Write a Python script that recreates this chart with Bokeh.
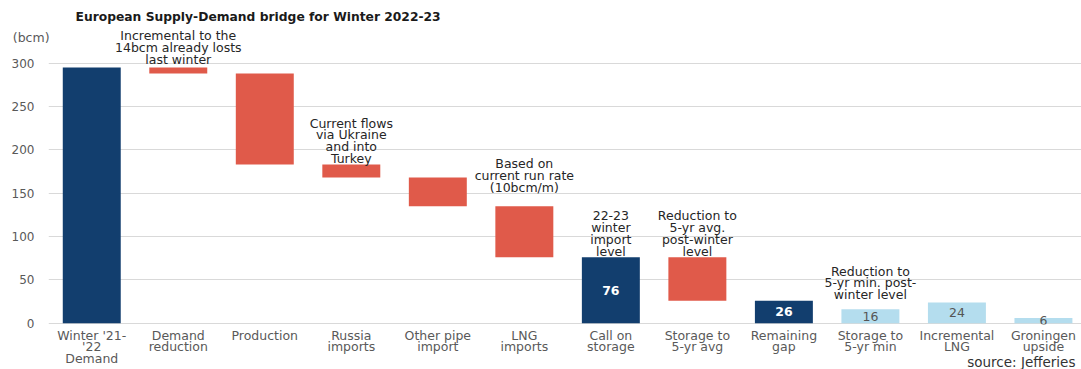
from bokeh.plotting import figure
from bokeh.models import ColumnDataSource, FixedTicker, Range1d, Label
from bokeh.core.properties import value
from bokeh.embed import file_html
from bokeh.resources import INLINE

# ---------------- data ----------------
categories = ["Winter '21-\n'22\nDemand", "Demand\nreduction", "Production",
              "Russia\nimports", "Other pipe\nimport", "LNG\nimports",
              "Call on\nstorage", "Storage to\n5-yr avg", "Remaining\ngap",
              "Storage to\n5-yr min", "Incremental\nLNG", "Groningen\nupside"]
values = [295, 7, 105, 15, 33, 59, 76, 50, 26, 16, 24, 6]
kinds = ["total", "down", "down", "down", "down", "down",
         "total", "down", "total", "extra", "extra", "extra"]
bar_labels = ["", "", "", "", "", "", "76", "", "26", "16", "24", "6"]
y_ticks = [0, 50, 100, 150, 200, 250, 300]

note_index = [1, 3, 5, 6, 7, 9]
note_y = [318, 210.5, 170.5, 103.5, 103.5, 46.5]
note_text = ["Incremental to the\n14bcm already losts\nlast winter",
             "Current flows\nvia Ukraine\nand into\nTurkey",
             "Based on\ncurrent run rate\n(10bcm/m)",
             "22-23\nwinter\nimport\nlevel",
             "Reduction to\n5-yr avg.\npost-winter\nlevel",
             "Reduction to\n5-yr min. post-\nwinter level"]

title_text = "European Supply-Demand bridge for Winter 2022-23"
unit_text = "(bcm)"
source_text = "source: Jefferies"

# ---------------- styles ----------------
NAVY = "#123e6e"
RED = "#e05a4a"
LIGHT = "#b4ddee"
FONT = "DejaVu Sans"
colour_of = {"total": NAVY, "down": RED, "extra": LIGHT}

# waterfall computation
x = list(range(len(values)))
bottoms, tops, colours, label_y, label_col, label_style = [], [], [], [], [], []
level = 0
for v, k in zip(values, kinds):
    if k == "total":
        b, t = 0, v
        level = v
    elif k == "down":
        t = level
        b = level - v
        level = b
    else:
        b, t = 0, v
    bottoms.append(b)
    tops.append(t)
    colours.append(colour_of[k])
    label_y.append((b + t) / 2)
    label_col.append("#ffffff" if k == "total" else "#555555")
    label_style.append("bold" if k == "total" else "normal")

src = ColumnDataSource(dict(x=x, bottom=bottoms, top=tops, color=colours,
                            ly=label_y, lt=bar_labels, lc=label_col, ls=label_style))

FRAME_H = 324
p = figure(frame_width=1033, frame_height=FRAME_H, output_backend="svg",
           toolbar_location=None, min_border_left=48, min_border_right=0,
           min_border_top=0, min_border_bottom=45,
           x_range=Range1d(-0.5, 11.44), y_range=Range1d(-1.5, 372.3))
p.outline_line_color = None
p.background_fill_color = "white"
p.border_fill_color = "white"

p.vbar(x="x", bottom="bottom", top="top", width=0.67, color="color",
       line_color=None, source=src)
p.text(x="x", y="ly", text="lt", text_color="lc", text_font_style="ls",
       text_font=value(FONT), text_font_size="12.5px", text_align="center",
       text_baseline="middle", source=src)

notes = ColumnDataSource(dict(x=note_index, y=note_y, t=note_text))
p.text(x="x", y="y", text="t", source=notes, text_font=value(FONT),
       text_font_size="12.5px", text_color="#262626", text_align="center",
       text_baseline="middle", text_line_height=0.78)

# unit and source as overlay-level text (drawn over the borders)
p.text(x=[-0.913], y=[329.5], text=[unit_text], level="overlay",
       text_font=value(FONT), text_font_size="12.5px", text_color="#595959",
       text_align="left", text_baseline="middle")
p.text(x=[11.37], y=[-45.3], text=[source_text], level="overlay",
       text_font=value(FONT), text_font_size="13.5px", text_color="#333333",
       text_align="right", text_baseline="middle")

# axes
p.xgrid.grid_line_color = None
p.ygrid.grid_line_color = "#d9d9d9"
p.ygrid.grid_line_width = 1

p.yaxis.ticker = FixedTicker(ticks=y_ticks)
p.yaxis.axis_line_color = None
p.yaxis.major_tick_line_color = None
p.yaxis.minor_tick_line_color = None
p.yaxis.major_tick_out = 0
p.yaxis.major_label_standoff = 14
p.yaxis.major_label_text_font = FONT
p.yaxis.major_label_text_font_size = "12px"
p.yaxis.major_label_text_color = "#595959"

p.xaxis.ticker = FixedTicker(ticks=x)
p.xaxis.major_label_overrides = {i: c for i, c in zip(x, categories)}
p.xaxis.axis_line_color = None
p.xaxis.major_tick_line_color = None
p.xaxis.minor_tick_line_color = None
p.xaxis.major_tick_out = 0
p.xaxis.major_label_standoff = 3
p.xaxis.major_label_text_font = FONT
p.xaxis.major_label_text_font_size = "12.5px"
p.xaxis.major_label_text_color = "#595959"
p.xaxis.major_label_text_line_height = 0.78

p.add_layout(Label(x=27, y=FRAME_H - 16, x_units="screen", y_units="screen",
                   text=title_text, text_font=FONT,
                   text_font_size="12.3px", text_font_style="bold",
                   text_color="#1a1a1a", text_align="left", text_baseline="middle"))

open("out.html", "w").write(file_html(p, INLINE))
